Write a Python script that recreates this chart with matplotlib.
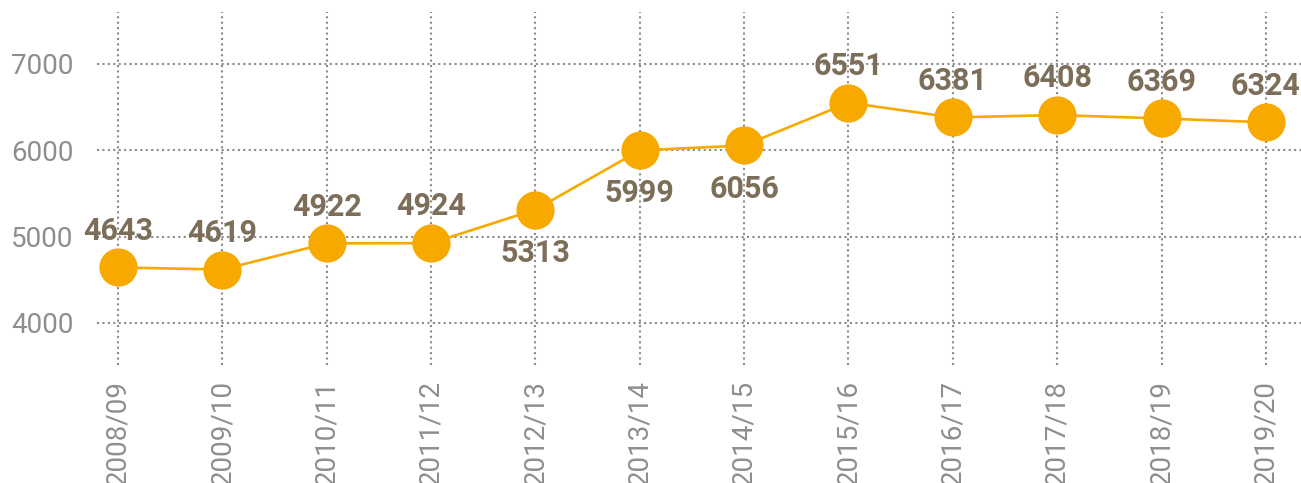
import matplotlib
matplotlib.use("Agg")
import matplotlib.pyplot as plt

seasons = ["2008/09", "2009/10", "2010/11", "2011/12", "2012/13", "2013/14",
           "2014/15", "2015/16", "2016/17", "2017/18", "2018/19", "2019/20"]
values = [4643, 4619, 4922, 4924, 5313, 5999, 6056, 6551, 6381, 6408, 6369, 6324]
label_below = [False, False, False, False, True, True, True, False, False, False, False, False]
yticks = [4000, 5000, 6000, 7000]

W, H = 1301, 483
fig = plt.figure(figsize=(W / 100, H / 100), dpi=100)
ax = fig.add_axes([97 / W, 1 - 365 / H, 1 - 97 / W, (365 - 12) / H])

x = list(range(len(seasons)))
ax.plot(x, values, color="#F7A900", lw=1.9, marker="o", markersize=27.5,
        markerfacecolor="#F7A900", markeredgewidth=0, zorder=3)

for xi, v, below in zip(x, values, label_below):
    off = -31 if below else 26.5
    ax.annotate(str(v), (xi, v), xytext=(0, off), textcoords="offset points",
                ha="center", va="center", fontsize=22, fontweight="bold",
                color="#7D6E5A", family=["Roboto", "DejaVu Sans"], zorder=4)

ax.set_xlim(-0.201, 11.336)
ax.set_ylim(3513, 7602)
ax.set_xticks(x)
ax.set_xticklabels(seasons, rotation=90, va="top", ha="center")
ax.set_yticks(yticks)
ax.set_yticklabels([str(t) for t in yticks])
ax.tick_params(axis="both", length=0, colors="#8E8E8E", labelsize=20)
ax.tick_params(axis="y", pad=17)
ax.tick_params(axis="x", pad=11)
for lab in ax.get_xticklabels() + ax.get_yticklabels():
    lab.set_family(["Roboto", "DejaVu Sans"])
    lab.set_fontweight("normal")

ax.grid(True, color="#8A8A8A", linestyle=(0, (1, 1.6)), lw=1.5, zorder=1)
for s in ax.spines.values():
    s.set_visible(False)
ax.set_axisbelow(True)

fig.savefig("out.png", dpi=100)
